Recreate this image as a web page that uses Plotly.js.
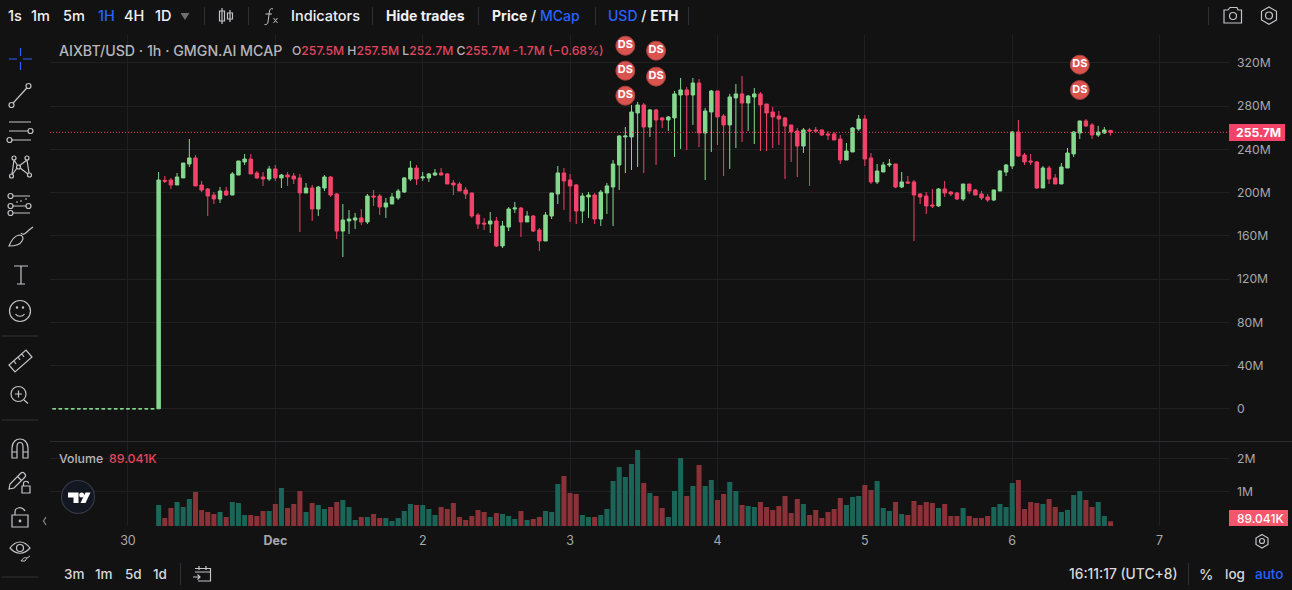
<!DOCTYPE html>
<html><head><meta charset="utf-8">
<script src="https://cdn.plot.ly/plotly-3.0.1.min.js"></script>
<style>
html,body{margin:0;padding:0;background:#121212;overflow:hidden}
#chart{position:absolute;left:0;top:0;width:1292px;height:590px}
#icons{position:absolute;left:0;top:0;pointer-events:none}
</style></head><body>
<div id="chart"></div>
<svg id="icons" width="1292" height="590" fill="none" stroke="#c4c4c7" stroke-width="1.2">
 <!-- separators -->
 <g stroke="#2c2f36" stroke-width="1">
  <path d="M204.5 7V25M248.5 7V25M372.5 7V25M478.5 7V25M595.5 7V25M688.5 7V25M1208.5 7V25M180.5 563V585M1188.5 563V585"/>
  <path d="M2 336H38M2 420H38M2 577H38" stroke="#333"/>
 </g>
 <!-- dropdown -->
 <path d="M180.5 13H189.5L185 20Z" fill="#6f6f72" stroke="none"/>
 <!-- candles icon -->
 <path d="M222 8V24M230 10V22M219.5 11h5v10h-5zM227.5 13h5v6h-5z"/>
 <!-- fx -->
 <path d="M273 9c-2-1-3 0-3.500 2L268 22c-.4 2-1.500 3-3.500 2.500M265.500 14H272M273.500 18l4 5M277.500 18l-4 5" stroke-width="1"/>
 <!-- camera, settings -->
 <path d="M1224 10h4l2-2.500h7l1 2.500h3.500v13H1224z"/><circle cx="1233" cy="16" r="3.500"/>
 <path d="M1269 7l7.500 4.300v8.700l-7.500 4.300-7.500-4.300v-8.700z"/><circle cx="1269" cy="15.500" r="3.500"/>
 <path d="M1262 534.500l6 3.500v6.500l-6 3.500-6-3.500V538z"/><circle cx="1262" cy="541" r="2.500"/>
 <!-- calendar -->
 <path d="M195 568.500h15.500V581H198M199 566v4M206 566v4M195 572h15.500M193 577h7M197.500 574.500l2.500 2.500-2.500 2.500"/>
 <!-- left toolbar -->
 <path d="M9 59h8M23 59h9M20.500 48v8M20.500 62v8" stroke="#2962ff"/>
 <circle cx="11.500" cy="105" r="2.500"/><circle cx="28.500" cy="86" r="2.500"/><path d="M13.200 103l13.600-15"/>
 <path d="M9 122h22M9 131h19M11 140h20"/><circle cx="30.500" cy="131" r="2.500"/><circle cx="9.500" cy="140" r="2.500"/>
 <circle cx="14" cy="158" r="2"/><circle cx="27" cy="158" r="2"/><circle cx="18.500" cy="167" r="2"/><circle cx="11.500" cy="176" r="2"/><circle cx="29.500" cy="175" r="2"/>
 <path d="M14 160l-2 14M14 160l4 6M27 160l-8 6M27 160l2 13M20 168l8 6M17 168l-5 7"/>
 <circle cx="10.500" cy="196" r="2.500"/><circle cx="10.500" cy="206" r="2.500"/><circle cx="10.500" cy="213" r="2.500"/><circle cx="28.500" cy="206" r="2.500"/>
 <path d="M13 196h17M13 206h13M13 213h17M16 202h2M20 201h2M25 199h2" stroke-width="1"/>
 <path d="M9 246c2-5 5-10 10-11 4 0 5 3 3 6-2 4-6 5-13 5zM21 233c2 3 5 0 8-3l4-3"/>
 <path d="M14 266h14M21 266v18M17 284h8" />
 <circle cx="20" cy="311" r="10.500"/><path d="M15.500 314c2 3 7 3 9 0"/><circle cx="17" cy="307.500" r=".6"/><circle cx="23" cy="307.500" r=".6"/>
 <path d="M9 365l17-15 6 7-17 15zM14 361l2 3M18 357l2 3M22 354l2 3" />
 <circle cx="18.500" cy="394" r="7.500"/><path d="M15 394h7M18.500 390.500v7M24 400l4 3.500"/>
 <path d="M12 458v-10c0-12 16-12 16 0v10M12 452h5v6h-5zM23 452h5v6h-5zM17 452v-5c0-6 6-6 6 0v5"/>
 <path d="M10 484l-1 5 5-1 11-11c2-2-2-6-4-4zM18 477l3.500 3.500"/>
 <path d="M22 486h8v7h-8zM23.500 486v-2.500c0-3 5-3 5 0"/>
 <path d="M12 515h16v12H12zM15 515v-3c0-5 7-6 10-1"/><circle cx="20" cy="521" r=".8" fill="#c4c4c7"/>
 <path d="M10 548c6-8 14-8 20 0-6 7-14 7-20 0z"/><circle cx="20" cy="548" r="3.500"/><path d="M21 561c2-3 4-4 6-3l3-2M21 561h4l2-3" stroke-width="1"/>
 <path d="M46 517l-2.500 4 2.500 4" stroke="#8a8a8e"/>
 <!-- TV logo -->
 <circle cx="78" cy="497" r="16.500" fill="#131722" stroke="#363a45"/>
 <path d="M68 492.500H78.500V503H73.500V497.500H68Z" fill="#fff" stroke="none"/><circle cx="81.700" cy="495" r="2.500" fill="#fff" stroke="none"/>
 <path d="M85.500 492.500H90.500L85.500 503H80.500Z" fill="#fff" stroke="none"/>
</svg>
<script>
// Hours counted from 30 Nov 00:00 (UTC+8). Flat listing candles sit at zero before the jump.
const flatHours = [-13,-12,-11,-10,-9,-8,-7,-6,-5,-4,-3,-2,-1,0,1,2,3,4];
const tradeHours = [5,6,7,8,9,10,11,12,13,14,15,16,17,18,19,20,21,22,23,24,25,26,27,28,29,30,31,32,33,34,35,36,37,38,39,40,41,42,43,44,45,46,47,48,49,50,51,52,53,54,55,56,57,58,59,60,61,62,63,64,65,66,67,68,69,70,71,72,73,74,75,76,77,78,79,80,81,82,83,84,85,86,87,88,89,90,91,92,93,94,95,96,97,98,99,100,101,102,103,104,105,106,107,108,109,110,111,112,113,114,115,116,117,118,119,120,121,122,123,124,125,126,127,128,129,130,131,132,133,134,135,136,137,138,139,140,141,142,143,144,145,146,147,148,149,150,151,152,153,154,155,156,157,158,159,160];
const opens = [0,211.3,211.6,207.0,213.5,226.4,232.0,207.0,203.3,197.7,
194.0,201.4,197.7,216.2,228.3,231.0,218.1,214.4,212.5,221.8,
213.5,216.2,215.3,213.5,199.6,204.2,184.8,204.2,214.4,198.7,
164.4,173.7,174.6,176.5,172.8,196.8,196.8,186.6,189.4,195.0,
200.5,212.5,222.7,213.5,213.5,216.2,218.1,217.2,208.8,207.9,
202.4,199.6,179.2,171.8,170.9,173.7,150.6,168.1,184.8,185.7,
172.8,178.3,165.4,155.2,178.3,198.7,218.1,211.6,207.0,182.9,
195.9,197.7,175.5,199.6,205.1,225.5,251.4,251.4,273.6,281.0,
260.6,276.4,269.0,267.1,269.0,290.2,294.9,290.2,301.3,255.1,
274.5,293.9,270.8,262.5,287.5,291.2,282.8,288.4,291.2,281.9,
274.5,270.8,269.0,262.5,256.9,243.0,257.9,257.9,257.9,254.2,
254.2,249.5,230.1,237.5,258.8,268.0,232.0,209.8,219.0,225.5,
226.4,205.1,209.8,209.8,198.7,196.8,188.5,187.6,203.3,200.5,
199.6,194.0,207.9,202.4,198.7,195.9,193.1,201.4,219.0,224.6,
256.0,234.7,229.2,228.3,204.2,222.7,213.5,207.9,222.7,235.7,
255.1,266.2,262.5,253.2,255.1,257.5];
const highs = [219.0,215.3,213.5,218.1,227.3,249.5,234.7,210.7,204.2,200.5,
205.1,205.1,219.0,229.2,235.7,235.7,219.9,219.0,224.5,225.5,
217.2,219.0,218.1,217.2,208.8,207.0,206.1,216.2,215.3,199.6,
189.4,183.9,181.1,184.8,198.7,202.4,198.7,195.0,199.6,203.3,
214.4,229.2,225.5,219.0,218.1,221.8,222.7,218.1,211.6,209.8,
205.1,199.6,181.1,176.5,182.0,177.4,173.7,186.6,191.3,186.6,
182.9,179.2,167.2,182.0,199.6,224.5,222.7,217.2,207.9,199.6,
200.5,199.6,202.4,208.8,230.1,253.2,260.6,281.0,283.8,282.8,
277.3,277.3,269.9,270.8,293.9,306.0,297.6,306.0,305.0,278.2,
294.9,293.9,272.7,291.2,300.4,307.8,290.2,296.7,293.0,281.9,
279.1,275.4,269.9,262.5,259.7,259.7,259.7,260.6,257.9,256.9,
256.0,253.2,245.8,260.6,271.7,271.7,236.6,226.4,228.3,231.0,
226.4,219.0,215.3,211.6,199.6,200.5,203.3,204.2,210.7,201.4,
200.5,207.9,207.9,203.3,201.4,198.7,202.4,220.9,226.4,256.9,
267.1,236.6,235.7,229.2,224.6,224.6,217.2,227.3,241.2,256.9,
266.2,268.0,264.3,261.6,260.6,257.5];
const lows = [0,208.8,203.3,207.0,213.5,223.6,206.1,200.5,178.3,189.4,
190.3,196.8,197.7,216.2,225.5,217.2,212.5,206.1,210.7,210.7,
204.2,206.1,207.9,163.5,199.6,173.7,178.3,201.4,195.9,157.0,
140.4,161.7,166.3,170.0,170.9,187.6,179.2,176.5,189.4,193.1,
199.6,210.7,207.0,210.7,209.8,215.3,216.2,207.9,197.7,201.4,
194.0,176.5,166.3,165.4,162.6,149.6,148.7,164.4,181.1,158.9,
172.8,163.5,145.9,155.2,175.5,189.4,183.9,172.8,170.9,171.8,
176.5,170.9,169.1,180.2,169.1,202.4,218.1,220.9,223.6,218.1,
251.4,225.5,259.7,256.9,232.9,240.3,239.4,262.5,242.1,211.6,
237.5,244.0,215.3,221.8,241.2,246.8,256.9,244.9,238.4,238.4,
241.2,244.0,212.5,228.3,214.4,236.6,206.1,255.1,252.3,248.6,
248.6,226.4,230.1,237.5,256.9,224.6,207.9,207.9,219.0,223.6,
204.2,204.2,207.9,155.2,189.4,180.2,185.7,186.6,195.9,196.8,
193.1,192.2,198.7,197.7,193.1,191.3,192.2,201.4,215.3,221.8,
232.9,225.5,225.5,203.3,204.2,207.9,207.9,207.9,222.7,232.9,
249.5,260.6,249.5,251.4,254.2,252.7];
const closes = [211.6,210.4,207.0,214.4,227.3,232.0,206.1,202.3,196.8,194.0,
201.4,197.7,217.2,229.2,231.0,217.2,213.5,212.5,221.8,213.5,
216.2,214.4,212.5,199.6,204.2,184.8,205.1,214.4,197.7,164.4,
174.6,175.5,176.5,172.8,196.8,195.9,186.6,190.3,195.9,201.4,
213.5,222.7,212.5,214.4,217.2,218.1,216.2,207.9,207.0,201.4,
198.7,178.3,170.9,170.9,173.7,150.6,169.1,184.8,185.7,172.8,
178.3,164.4,155.2,179.2,199.6,218.1,210.7,206.1,182.9,196.8,
197.7,175.5,200.5,206.1,226.4,252.3,252.3,274.5,281.0,260.6,
276.4,267.1,267.1,269.9,291.2,294.9,290.2,301.3,255.1,275.4,
293.9,269.9,262.5,288.4,291.2,282.8,289.3,291.2,281.0,273.6,
269.9,268.0,261.6,256.0,243.0,257.9,256.9,256.9,253.2,253.2,
248.6,230.1,238.4,259.7,268.0,231.0,209.8,219.9,225.5,226.4,
205.1,209.8,208.8,197.7,195.9,187.6,187.6,203.3,199.6,198.7,
194.0,207.9,201.4,197.7,195.0,193.1,202.4,219.9,225.5,256.0,
233.8,228.3,228.3,204.2,222.7,212.5,207.9,223.6,236.6,256.0,
266.2,261.6,253.2,256.0,257.9,255.7];
const volumes = [.585,.191,.494,.676,.524,.767,.979,.433,.373,.312,
.373,.221,.676,.645,.282,.282,.252,.403,.403,.615,
1.100,.494,.615,1.009,.373,.645,.585,.464,.524,.676,
.736,.524,.130,.221,.221,.312,.191,.191,.100,.191,
.403,.615,.585,.585,.464,.282,.524,.464,.645,.221,
.130,.252,.433,.373,.221,.342,.312,.252,.161,.403,
.130,.161,.221,.403,.373,1.221,1.464,.948,.918,.282,
.221,.221,.282,.464,1.312,1.736,1.433,1.827,2.251,1.251,
.948,.858,.494,.221,1.009,2.009,.858,1.161,1.797,1.161,
1.342,.736,.918,1.282,1.009,.585,.555,.524,.676,.524,
.433,.555,.858,.342,.767,.615,.282,.433,.191,.373,
.464,.797,.585,.827,.858,1.191,1.039,1.312,.494,.403,
.676,.312,.282,.706,.585,.676,.645,.494,.615,.252,
.252,.494,.252,.191,.191,.252,.524,.615,.524,1.251,
1.342,.464,.676,.645,.615,.767,.524,.373,.433,.888,
1.009,.736,.524,.676,.252,.089];
const dsHours = [81,81,81,86,86,86,155,155];
const dsValues = [335.8,312.7,289.6,355.3,331.2,307.2,318.3,294.9];
const dsText = ['<b>DS</b>','<b>DS</b>','<b>DS</b>','','<b>DS</b>','<b>DS</b>','<b>DS</b>','<b>DS</b>'];
const priceTicks = [0,40,80,120,160,200,240,280,320];
const priceLabels = ["0","40M","80M","120M","160M","200M","240M","280M","320M"];
const volumeTicks = [1,2];
const volumeLabels = ["1M","2M"];
const dayTicks = [0,24,48,72,96,120,144,168];
const dayLabels = ["30","<b>Dec</b>","2","3","4","5","6","7"];
const lastClose = 255.7;
const legendText = "AIXBT/USD · 1h · GMGN.AI MCAP";

const UP='#85d98f', DOWN='#f4436a', UPV='#1b6558', DOWNV='#8b3239', TXT='#a8a8ad', BG='#121212', GRID='#202022';
const FONT='Inter, "Open Sans", sans-serif';
const L=50, T=35, W=1179, H=491;
const X=p=>(p-L)/W, Y=p=>(T+H-p)/H;
const volBase=-0.0515;

const flatZeros = flatHours.map(()=>0);
const candles = {type:'candlestick', xaxis:'x', yaxis:'y',
  x:flatHours.concat(tradeHours),
  open:flatZeros.concat(opens), high:flatZeros.concat(highs), low:flatZeros.concat(lows), close:flatZeros.concat(closes),
  increasing:{line:{color:UP,width:1},fillcolor:UP}, decreasing:{line:{color:DOWN,width:1},fillcolor:DOWN},
  whiskerwidth:0, hoverinfo:'skip', showlegend:false};
const volBars = {type:'bar', xaxis:'x2', yaxis:'y2', x:tradeHours,
  y:volumes.map(v=>v-volBase), base:volBase,
  marker:{color:tradeHours.map((h,i)=>closes[i]>=opens[i]?UPV:DOWNV),line:{width:0}},
  hoverinfo:'skip', showlegend:false};
const ds = {type:'scatter', mode:'markers+text', xaxis:'x', yaxis:'y', x:dsHours, y:dsValues,
  text:dsText, textposition:'middle center', textfont:{family:FONT,size:11,color:'#fff'},
  marker:{size:19,color:'#d9534f',line:{width:1,color:'#a8403c'}}, cliponaxis:true, hoverinfo:'skip', showlegend:false};

function lab(px,py,text,color,size,extra){
  return Object.assign({xref:'paper',yref:'paper',x:X(px),y:Y(py),text:text,showarrow:false,xanchor:'left',yanchor:'middle',
    borderpad:0,borderwidth:0,font:{family:FONT,size:size||14.5,color:color||'#e4e4e6',weight:500}},extra||{});
}
const BLUE='#2962ff', RED='#e0455e', W2='#f0f0f2';
const V=s=>`<span style="color:${RED}">${s}</span>`;
const Bl=s=>`<span style="color:${BLUE};font-weight:500">${s}</span>`;
const annotations=[
 lab(8,16,'1s',W2),lab(31,16,'1m',W2),lab(63,16,'5m',W2),lab(98,16,'1H',BLUE),lab(124,16,'4H',W2),lab(155,16,'1D',W2),
 lab(291,16,'Indicators',W2),lab(386,16,'<b>Hide trades</b>',W2,14),
 lab(492,16,'<b>Price</b> / '+Bl('MCap'),W2,14),
 lab(608,16,Bl('USD')+' / <b>ETH</b>',W2,14),
 lab(59,51,legendText,'#b6b6ba',14.2),
 lab(292,51,'O'+V('257.5M')+' H'+V('257.5M')+' L'+V('252.7M')+' C'+V('255.7M')+' '+V('-1.7M (−0.68%)'),'#b6b6ba',12.2),
 lab(59,458,'Volume','#b6b6ba',12.3),lab(109,458,'89.041K',RED,12.3),
 lab(64,574,'3m','#d8d8da',13.5),lab(95,574,'1m','#d8d8da',13.5),lab(125,574,'5d','#d8d8da',13.5),lab(153,574,'1d','#d8d8da',13.5),
 lab(1069,574,'16:11:17 (UTC+8)','#d8d8da',13.8),lab(1199,574,'%','#d8d8da',14.5),lab(1225,574,'log','#d8d8da',13.5),lab(1255,574,'auto',BLUE,13.5),
 lab(1236,132.5,'<b>255.7M</b>','#fff',12.2),lab(1237,518.5,'89.041K','#fff',12)
];
const shapes=[
 {type:'line',xref:'paper',yref:'y',x0:0,x1:1,y0:lastClose,y1:lastClose,line:{color:DOWN,width:1,dash:'1px,2px'},layer:'above'},
 {type:'line',xref:'paper',yref:'paper',x0:0,x1:X(1292),y0:Y(441.5),y1:Y(441.5),line:{color:'#2b2b30',width:1}},
 {type:'rect',xref:'paper',yref:'paper',x0:X(1229),x1:X(1285),y0:Y(124),y1:Y(141),fillcolor:DOWN,line:{width:0},layer:'above'},
 {type:'rect',xref:'paper',yref:'paper',x0:X(1229),x1:X(1288),y0:Y(510),y1:Y(526),fillcolor:'#f4566c',line:{width:0},layer:'above'}
];
const xbase={range:[-12.69,179.3],showgrid:true,gridcolor:GRID,gridwidth:1,zeroline:false,showline:false,tickmode:'array',tickvals:dayTicks,ticktext:dayLabels,
  rangeslider:{visible:false},fixedrange:true,ticks:''};
const layout={width:1292,height:590,margin:{l:L,r:1292-L-W,t:T,b:590-T-H,pad:0},paper_bgcolor:BG,plot_bgcolor:BG,showlegend:false,
  bargap:0.18,boxgap:0.2,
  font:{family:FONT,color:TXT,size:13},
  xaxis:Object.assign({},xbase,{anchor:'y',showticklabels:false}),
  xaxis2:Object.assign({},xbase,{anchor:'y2',matches:'x',showticklabels:true,tickfont:{family:FONT,size:12.5,color:TXT},ticklabelstandoff:5}),
  yaxis:{domain:[Y(441),1],range:[-29.78,345.7],side:'right',showgrid:true,gridcolor:GRID,zeroline:false,tickmode:'array',tickvals:priceTicks,ticktext:priceLabels,ticks:'',ticklabelstandoff:7,tickfont:{family:FONT,size:12.2,color:TXT},fixedrange:true},
  yaxis2:{domain:[0,Y(442)],range:[volBase,2.494],side:'right',showgrid:true,gridcolor:GRID,zeroline:false,tickmode:'array',tickvals:volumeTicks,ticktext:volumeLabels,ticks:'',ticklabelstandoff:7,tickfont:{family:FONT,size:12.2,color:TXT},fixedrange:true},
  annotations:annotations,shapes:shapes};
Plotly.newPlot('chart',[candles,volBars,ds],layout,{displayModeBar:false,staticPlot:true});
</script>
</body></html>
